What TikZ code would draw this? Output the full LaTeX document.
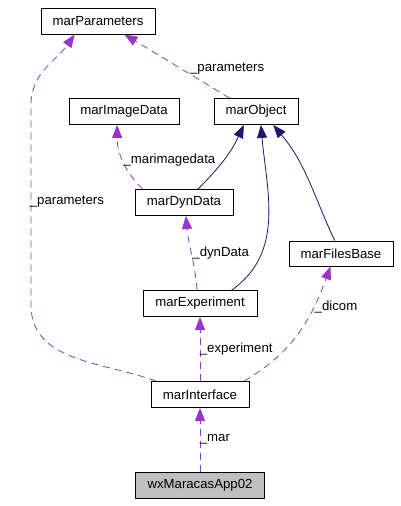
\documentclass[tikz,border=0pt]{standalone}
\usepackage{fontspec}
\setmainfont{Liberation Sans}
\usetikzlibrary{positioning,arrows.meta}
\definecolor{usedpurple}{HTML}{9A32CD}
\definecolor{inhblue}{HTML}{191970}
\definecolor{grey75}{HTML}{BFBFBF}

\begin{document}
\begin{tikzpicture}[x=1pt,y=1pt,on grid,font=\fontsize{13.2}{15}\selectfont,
  classbox/.style={draw,rectangle,minimum height=26pt,inner sep=0pt,line width=0.9pt},
  uses/.style={draw=usedpurple,line width=0.8pt,dash pattern=on 7pt off 5pt,-{Triangle[length=13pt,width=10pt]}},
  inherits/.style={draw=inhblue,line width=0.8pt,-{Triangle[length=13pt,width=10pt]}},
  lbl/.style={anchor=west,inner sep=0.5pt}]
                        \useasboundingbox (0,0) rectangle (400,-506);
                        \node[classbox, fill=grey75, minimum width=129pt] (app) at (200,-485) {wxMaracasApp02};
                        \node[classbox, minimum width=98pt, above=90.5pt of app] (interface) {marInterface};
                        \node[classbox, minimum width=114pt, above=91pt of interface] (experiment) {marExperiment};
                        \node[classbox, minimum width=104pt, minimum height=25pt, above right=50pt and 141pt of experiment] (filesbase) {marFilesBase};
                        \node[classbox, minimum width=98pt, above left=101pt and 16pt of experiment] (dyndata) {marDynData};
                        \node[classbox, minimum width=84pt, above right=91pt and 72pt of dyndata] (object) {marObject};
                        \node[classbox, minimum width=110pt, above left=91pt and 60pt of dyndata] (imgdata) {marImageData};
                        \node[classbox, minimum width=114pt, above left=90.5pt and 158pt of object] (params) {marParameters};
                        \coordinate (pbot) at (31,-305);
                        \coordinate (ptop) at (31,-105);
                        % inheritance
                        \draw[inherits] (dyndata.44) to[out=45,in=-115] (object.-132);
                        \draw[inherits] (experiment.23) to[out=35,in=-85] (object.-70);
                        \draw[inherits] (filesbase.116) to[out=115,in=-50] (object.-38);
                        % usage
                        \draw[uses] (app) -- node[lbl, xshift=-1pt] {\_mar} (interface);
                        \draw[uses] (interface) -- node[lbl, xshift=-1pt] {\_experiment} (experiment);
                        \draw[uses] (interface.17) to[out=30,in=-110] node[lbl, pos=0.72] {\_dicom} (filesbase.-129);
                        \draw[uses] (interface.163) to[out=160,in=-90] (pbot) -- node[lbl, pos=0.515, xshift=-2pt] {\_parameters} (ptop) to[out=90,in=-125] (params.-150);
                        \draw[uses] (experiment.102) to[out=95,in=-85] node[lbl] {\_dynData} (dyndata.-82);
                        \draw[uses] (dyndata.162) to[out=135,in=-90] node[lbl] {\_marimagedata} (imgdata.-117);
                        \draw[uses] (object.153) -- node[lbl, pos=0.46, xshift=8pt] {\_parameters} (params.-27);
                    \end{tikzpicture}
\end{document}
